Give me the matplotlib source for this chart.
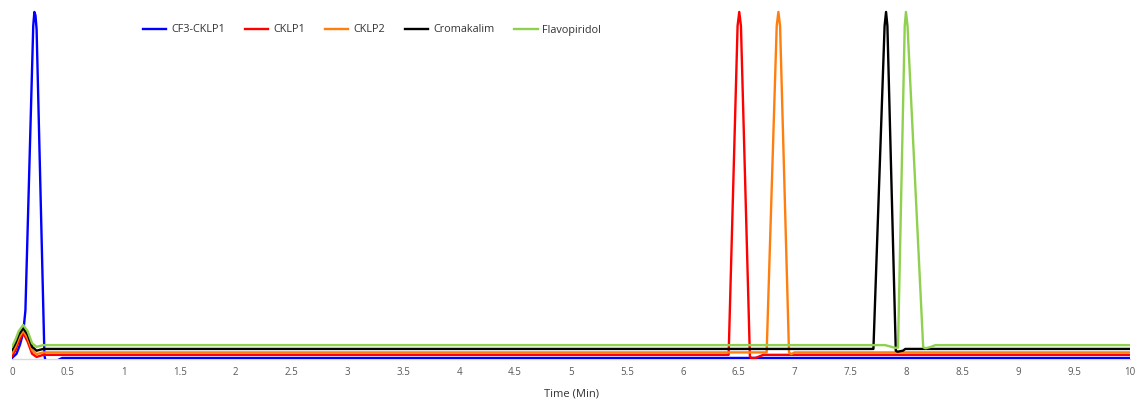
import matplotlib
matplotlib.use("Agg")
import matplotlib.pyplot as plt

plt.rcParams['font.family'] = ['Open Sans', 'DejaVu Sans']

# ---- data (relative signal, peak = 100) ----
cf3_x = [0, 0.04, 0.07, 0.10, 0.12, 0.19, 0.20, 0.21, 0.22, 0.29, 0.30, 0.31, 0.38, 0.45, 10]
cf3_y = [0.3, 1.5, 4.0, 7.5, 14, 96, 100, 99, 95, 1.0, -0.6, -0.9, -0.8, 0.3, 0.3]

cklp1_x = [0, 0.03, 0.06, 0.10, 0.14, 0.18, 0.22, 0.28, 6.41, 6.49, 6.505, 6.52, 6.60, 6.61, 6.65, 6.72, 10]
cklp1_y = [0.9, 2.5, 5.0, 7.5, 5.0, 1.5, 0.6, 1.2, 1.2, 96, 100, 96, 0.8, 0.3, 0.3, 1.2, 1.2]

cklp2_x = [0, 0.03, 0.06, 0.10, 0.14, 0.18, 0.22, 0.28, 6.75, 6.84, 6.855, 6.87, 6.95, 6.97, 7.0, 10]
cklp2_y = [1.7, 3.5, 6.0, 8.2, 6.0, 2.5, 1.4, 1.9, 1.9, 96, 100, 96, 1.9, 1.4, 1.9, 1.9]

croma_x = [0, 0.03, 0.06, 0.10, 0.14, 0.18, 0.22, 0.28, 7.705, 7.805, 7.818, 7.83, 7.905, 7.92, 7.97, 7.99, 10]
croma_y = [2.6, 4.5, 7.0, 8.9, 7.0, 3.5, 2.4, 2.9, 2.9, 96, 100, 96, 2.4, 2.1, 2.4, 2.9, 2.9]

flavo_x = [0, 0.03, 0.06, 0.10, 0.14, 0.18, 0.22, 0.28, 7.81, 7.90, 7.925, 7.985, 7.996, 8.01, 8.15, 8.17, 8.21, 8.26, 10]
flavo_y = [3.5, 5.5, 8.0, 9.8, 8.0, 4.5, 3.5, 4.0, 4.0, 3.2, 3.3, 96, 100, 96, 3.4, 3.1, 3.4, 4.0, 4.0]

series = [
    ("CF3-CKLP1", cf3_x, cf3_y, "#0000ff"),
    ("CKLP1", cklp1_x, cklp1_y, "#ff0000"),
    ("CKLP2", cklp2_x, cklp2_y, "#ff7f0e"),
    ("Cromakalim", croma_x, croma_y, "#000000"),
    ("Flavopiridol", flavo_x, flavo_y, "#8fd14f"),
]

xticks = [0, 0.5, 1, 1.5, 2, 2.5, 3, 3.5, 4, 4.5, 5, 5.5, 6, 6.5, 7, 7.5, 8, 8.5, 9, 9.5, 10]
xticklabels = ["0", "0.5", "1", "1.5", "2", "2.5", "3", "3.5", "4", "4.5", "5",
               "5.5", "6", "6.5", "7", "7.5", "8", "8.5", "9", "9.5", "10"]

W, H = 1138, 404
fig = plt.figure(figsize=(W / 100, H / 100), dpi=100)
left, right = 12 / W, 1130 / W
bottom = (H - 359) / H
top = (H - 5) / H
ax = fig.add_axes([left, bottom, right - left, top - bottom])

for name, xs, ys, c in series:
    ax.plot(xs, ys, color=c, lw=1.7, label=name, solid_joinstyle='round')

ax.set_xlim(0, 10)
ax.set_ylim(0, 102)
ax.set_xticks(xticks)
ax.set_xticklabels(xticklabels)
ax.tick_params(axis='x', length=0, pad=6, labelsize=7, labelcolor='#595959')
ax.set_yticks([])
for s in ['top', 'right', 'left']:
    ax.spines[s].set_visible(False)
ax.spines['bottom'].set_color('#d9d9d9')
ax.spines['bottom'].set_linewidth(1.0)
ax.spines['bottom'].set_zorder(0)

ax.set_xlabel("Time (Min)", fontsize=8, color='#333333', labelpad=7)

leg = fig.legend(loc='center left', bbox_to_anchor=(133 / W, 1 - 30 / H), ncol=5,
                 frameon=False, fontsize=7.8, handlelength=2.15, handletextpad=0.45,
                 columnspacing=1.85)
for t in leg.get_texts():
    t.set_color('#333333')

fig.savefig("out.png", dpi=100)
